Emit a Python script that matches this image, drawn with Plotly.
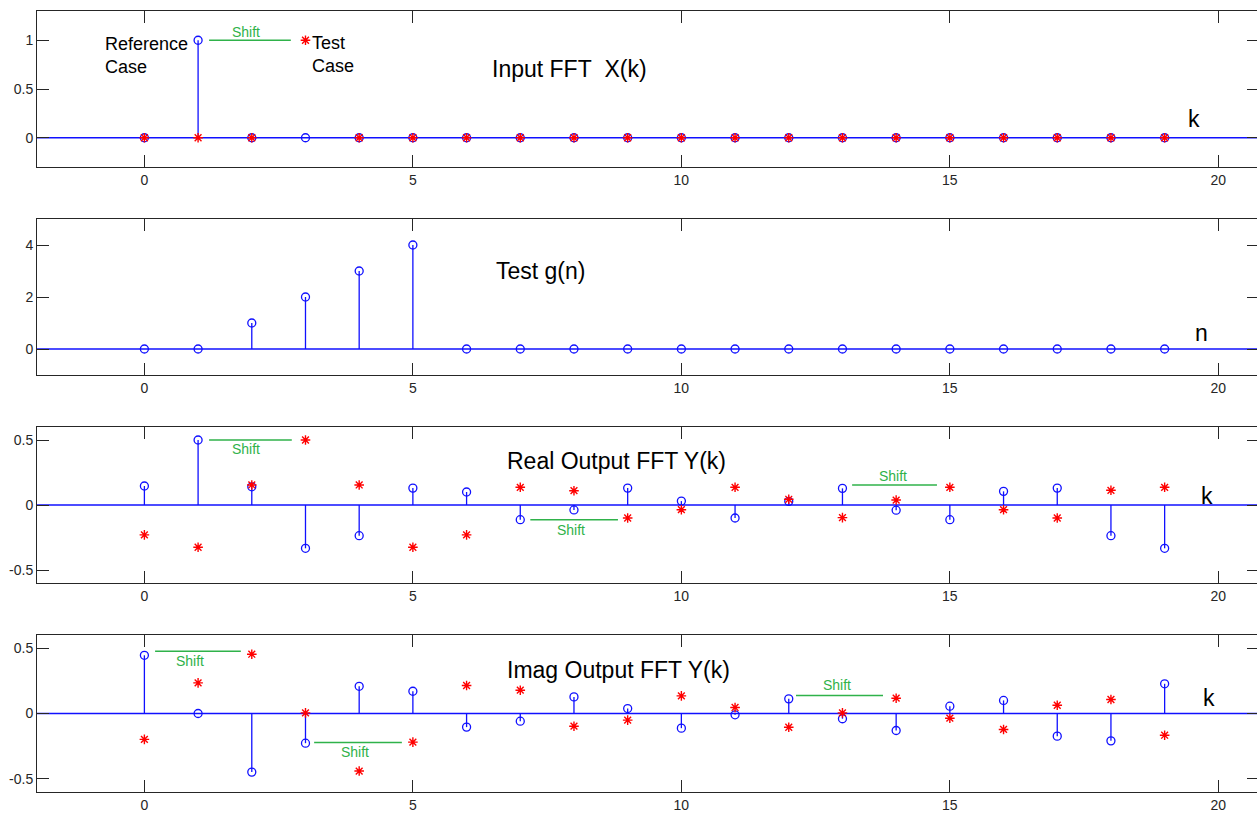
import plotly.graph_objects as go

# ---------------- data ----------------
k = list(range(20))
n = list(range(20))

# Panel 1: input FFT X(k)
X_ref = [0, 1, 0, 0, 0, 0, 0, 0, 0, 0, 0, 0, 0, 0, 0, 0, 0, 0, 0, 0]
X_test = [0, 0, 0, 1, 0, 0, 0, 0, 0, 0, 0, 0, 0, 0, 0, 0, 0, 0, 0, 0]

# Panel 2: test g(n)
g = [0, 0, 1, 2, 3, 4, 0, 0, 0, 0, 0, 0, 0, 0, 0, 0, 0, 0, 0, 0]

# Panel 3: real output FFT Y(k)
Yr_ref = [0.146, 0.5, 0.14, -0.333, -0.236, 0.13, 0.10, -0.113, -0.038, 0.13,
          0.03, -0.10, 0.028, 0.128, -0.04, -0.113, 0.105, 0.13, -0.236, -0.333]
Yr_test = [-0.23, -0.325, 0.154, 0.5, 0.154, -0.325, -0.23, 0.136, 0.11, -0.10,
           -0.036, 0.136, 0.044, -0.097, 0.038, 0.136, -0.036, -0.10, 0.113, 0.136]

# Panel 4: imag output FFT Y(k)
Yi_ref = [0.445, 0.0, -0.448, -0.227, 0.208, 0.17, -0.104, -0.059, 0.127, 0.038,
          -0.112, -0.01, 0.112, -0.04, -0.13, 0.056, 0.10, -0.173, -0.209, 0.227]
Yi_test = [-0.198, 0.234, 0.453, 0.005, -0.44, -0.219, 0.214, 0.178, -0.097, -0.051,
           0.135, 0.046, -0.105, 0.005, 0.117, -0.036, -0.122, 0.063, 0.107, -0.166]

x_tick_vals = [0, 5, 10, 15, 20]
y_tick_vals = [[0, 0.5, 1], [0, 2, 4], [-0.5, 0, 0.5], [-0.5, 0, 0.5]]
y_tick_text = [["0", "0.5", "1"], ["0", "2", "4"], ["-0.5", "0", "0.5"], ["-0.5", "0", "0.5"]]
y_ranges = [[-0.3, 1.3], [-1, 5], [-0.6, 0.6], [-0.6, 0.6]]
x_range = [-2, 20.72]

# ---------------- styling/layout constants ----------------
W, H = 1257, 813
panel_px = [(11, 167), (219, 375), (427, 583), (635, 792)]  # top, bottom in pixels
BLUE = "#1010ff"
RED = "#ff0000"
GREEN = "#2fb24a"
AX = "#262626"
FONT = "Liberation Sans, Arial, sans-serif"

fig = go.Figure()


def axn(i):
    return ("x" if i == 0 else f"x{i+1}"), ("y" if i == 0 else f"y{i+1}")


def stems(xs, ys):
    sx, sy = [], []
    for a, b in zip(xs, ys):
        sx += [a, a, None]
        sy += [0, b, None]
    return sx, sy


def add_stem(i, xs, ys):
    xa, ya = axn(i)
    sx, sy = stems(xs, ys)
    fig.add_trace(go.Scatter(x=sx, y=sy, mode="lines", line=dict(color=BLUE, width=1.3),
                             xaxis=xa, yaxis=ya, hoverinfo="skip", showlegend=False))
    fig.add_trace(go.Scatter(x=xs, y=ys, mode="markers", xaxis=xa, yaxis=ya, showlegend=False,
                             marker=dict(symbol="circle-open", size=8, color=BLUE,
                                         line=dict(color=BLUE, width=1.3))))


def add_stars(i, xs, ys):
    xa, ya = axn(i)
    fig.add_trace(go.Scatter(x=xs, y=ys, mode="markers", xaxis=xa, yaxis=ya, showlegend=False,
                             marker=dict(symbol="asterisk-open", size=8, color=RED,
                                         line=dict(color=RED, width=1.4))))


add_stem(0, k, X_ref)
add_stars(0, k, X_test)
add_stem(1, n, g)
add_stem(2, k, Yr_ref)
add_stars(2, k, Yr_test)
add_stem(3, k, Yi_ref)
add_stars(3, k, Yi_test)

layout = dict(width=W, height=H, margin=dict(l=37, r=0, t=0, b=0),
              paper_bgcolor="white", plot_bgcolor="white", showlegend=False,
              font=dict(family=FONT, size=14, color=AX))

for i, (top, bot) in enumerate(panel_px):
    sfx = "" if i == 0 else str(i + 1)
    dom = [1 - bot / H, 1 - top / H]
    layout["xaxis" + sfx] = dict(domain=[0, 1], anchor="y" + sfx, range=x_range,
                                 tickvals=x_tick_vals, ticks="inside", ticklen=12,
                                 tickcolor=AX, showline=True, linecolor=AX, linewidth=1,
                                 mirror="ticks", showgrid=False, zeroline=False,
                                 tickfont=dict(size=14, color=AX), automargin=False)
    layout["yaxis" + sfx] = dict(domain=dom, anchor="x" + sfx, range=y_ranges[i],
                                 tickvals=y_tick_vals[i], ticktext=y_tick_text[i],
                                 ticks="inside", ticklen=12, tickcolor=AX,
                                 showline=True, linecolor=AX, linewidth=1, mirror=False,
                                 showgrid=False, zeroline=False,
                                 tickfont=dict(size=14, color=AX), automargin=False)
    # right-hand ticks without a visible right border line
    ov = str(i + 5)
    layout["yaxis" + ov] = dict(overlaying="y" + sfx, side="right", anchor="x" + sfx,
                                range=y_ranges[i], tickvals=y_tick_vals[i],
                                ticks="inside", ticklen=10, tickcolor=AX,
                                showticklabels=False, showline=False, showgrid=False,
                                zeroline=False, automargin=False)
    fig.add_trace(go.Scatter(x=[None], y=[None], xaxis="x" + sfx, yaxis="y" + ov,
                             showlegend=False, hoverinfo="skip"))

fig.update_layout(**layout)

# stem baselines (full width, blue)
for i in range(4):
    xa, ya = axn(i)
    fig.add_shape(type="line", xref=xa + " domain", yref=ya, x0=0, x1=1, y0=0, y1=0,
                  line=dict(color=BLUE, width=1.3), layer="below")

# ---------------- annotations ----------------
texts = [
    # panel, text, x, y, size, color, xanchor
    (0, "Reference<br>Case", -0.77, 0.84, 18, "black", "left"),
    (0, "Test<br>Case", 3.08, 0.85, 18, "black", "left"),
    (0, "Input FFT\u00a0 X(k)", 7.91, 0.71, 23, "black", "center"),
    (0, "k", 19.55, 0.19, 23, "black", "center"),
    (1, "Test g(n)", 7.37, 3.0, 23, "black", "center"),
    (1, "n", 19.69, 0.6, 23, "black", "center"),
    (2, "Real Output FFT Y(k)", 8.80, 0.335, 23, "black", "center"),
    (2, "k", 19.79, 0.07, 23, "black", "center"),
    (3, "Imag Output FFT Y(k)", 8.83, 0.33, 23, "black", "center"),
    (3, "k", 19.82, 0.12, 23, "black", "center"),
    (0, "Shift", 1.89, 1.087, 14, GREEN, "center"),
    (2, "Shift", 1.89, 0.43, 14, GREEN, "center"),
    (2, "Shift", 7.95, -0.19, 14, GREEN, "center"),
    (2, "Shift", 13.94, 0.225, 14, GREEN, "center"),
    (3, "Shift", 0.85, 0.399, 14, GREEN, "center"),
    (3, "Shift", 3.925, -0.294, 14, GREEN, "center"),
    (3, "Shift", 12.9, 0.221, 14, GREEN, "center"),
]
shift_lines = [
    # panel, x0, x1, y
    (0, 1.205, 2.727, 1.0),
    (2, 1.205, 2.745, 0.5),
    (2, 7.187, 8.819, -0.113),
    (2, 13.18, 14.76, 0.154),
    (3, 0.199, 1.796, 0.476),
    (3, 3.161, 4.795, -0.221),
    (3, 12.135, 13.755, 0.137),
]

for p, t, x, y, s, c, xa in texts:
    sfx = "" if p == 0 else str(p + 1)
    fig.add_annotation(x=x, y=y, xref="x" + sfx, yref="y" + sfx, text=t, showarrow=False,
                       xanchor=xa, yanchor="middle", align="left",
                       font=dict(family=FONT, size=s, color=c))

for p, x0, x1, y in shift_lines:
    sfx = "" if p == 0 else str(p + 1)
    fig.add_shape(type="line", xref="x" + sfx, yref="y" + sfx, x0=x0, x1=x1, y0=y, y1=y,
                  line=dict(color=GREEN, width=1.5))

fig.write_html("out.html")
